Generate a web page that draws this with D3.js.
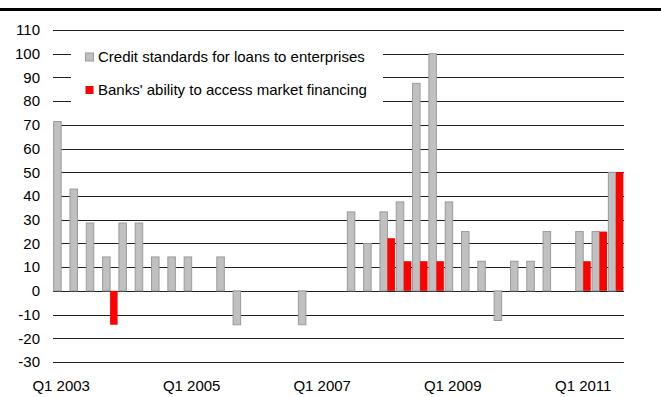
<!DOCTYPE html>
<html>
<head>
<meta charset="utf-8">
<script src="https://cdn.jsdelivr.net/npm/d3@7/dist/d3.min.js"></script>
<style>
  html, body { margin: 0; padding: 0; background: #fff; }
  svg { display: block; }
  text { font-family: "Liberation Sans", Arial, sans-serif; fill: #000; }
</style>
</head>
<body>
<svg id="chart" width="661" height="397"></svg>
<script>
// Quarterly categories, Q1 2003 – Q3 2011
const quarters = [
  "Q1 2003","Q2 2003","Q3 2003","Q4 2003",
  "Q1 2004","Q2 2004","Q3 2004","Q4 2004",
  "Q1 2005","Q2 2005","Q3 2005","Q4 2005",
  "Q1 2006","Q2 2006","Q3 2006","Q4 2006",
  "Q1 2007","Q2 2007","Q3 2007","Q4 2007",
  "Q1 2008","Q2 2008","Q3 2008","Q4 2008",
  "Q1 2009","Q2 2009","Q3 2009","Q4 2009",
  "Q1 2010","Q2 2010","Q3 2010","Q4 2010",
  "Q1 2011","Q2 2011","Q3 2011"
];

// Net percentages per quarter
const creditStandards = [
  71.4, 42.9, 28.6, 14.3, 28.6, 28.6, 14.3, 14.3,
  14.3, 0, 14.3, -14.3, 0, 0, 0, -14.3,
  0, 0, 33.3, 20, 33.3, 37.5, 87.5, 100,
  37.5, 25, 12.5, -12.5, 12.5, 12.5, 25, 0,
  25, 25, 50
];
const marketFinancing = [
  0, 0, 0, -14.3, 0, 0, 0, 0,
  0, 0, 0, 0, 0, 0, 0, 0,
  0, 0, 0, 0, 22.2, 12.5, 12.5, 12.5,
  0, 0, 0, 0, 0, 0, 0, 0,
  12.5, 25, 50
];

const seriesNames = [
  "Credit standards for loans to enterprises",
  "Banks' ability to access market financing"
];
const xTickLabels = ["Q1 2003", "Q1 2005", "Q1 2007", "Q1 2009", "Q1 2011"];
const yTicks = d3.range(-30, 111, 10);

const svg = d3.select("#chart");
const plotLeft = 53, plotRight = 624, plotTop = 30, plotBottom = 362;
const fontSize = "15px";

const x = d3.scaleBand().domain(quarters).range([plotLeft, plotRight]).padding(0);
const y = d3.scaleLinear().domain([-30, 110]).range([plotBottom, plotTop]);

// Heavy rule across the top
svg.append("rect")
  .attr("x", 0).attr("y", 8).attr("width", 661).attr("height", 3)
  .attr("fill", "#000");

// Horizontal gridlines
svg.append("g")
  .selectAll("line")
  .data(yTicks)
  .join("line")
  .attr("x1", plotLeft).attr("x2", plotRight)
  .attr("y1", d => Math.round(y(d)) + 0.5)
  .attr("y2", d => Math.round(y(d)) + 0.5)
  .attr("stroke", "#202020")
  .attr("stroke-width", 1.2);

// Y axis labels (plain hyphen for negatives)
const yAxis = d3.axisLeft(y)
  .tickValues(yTicks)
  .tickFormat(d => String(d))
  .tickSize(0)
  .tickPadding(13);
svg.append("g")
  .attr("transform", `translate(${plotLeft},0)`)
  .call(yAxis)
  .call(g => g.select(".domain").remove())
  .call(g => g.selectAll("text")
    .style("font-family", '"Liberation Sans", Arial, sans-serif')
    .style("font-size", fontSize)
    .attr("fill", "#000"));

// Bars
const barW = 7.5;
const groupCenter = q => x(q) + x.bandwidth() / 2;

function barRect(sel, values, offset, fill, stroke) {
  sel.selectAll("rect")
    .data(quarters.map((q, i) => ({ q, v: values[i] })).filter(d => d.v !== 0))
    .join("rect")
    .attr("x", d => groupCenter(d.q) + offset)
    .attr("width", barW)
    .attr("y", d => y(Math.max(0, d.v)))
    .attr("height", d => Math.abs(y(d.v) - y(0)))
    .attr("fill", fill)
    .attr("stroke", stroke)
    .attr("stroke-width", stroke === "none" ? 0 : 1);
}

svg.append("g").call(barRect, creditStandards, -barW, "#c0c0c0", "#9a9a9a");
svg.append("g").call(barRect, marketFinancing, 0, "#ff0000", "none");

// X axis labels
const xAxis = d3.axisBottom(x)
  .tickValues(xTickLabels)
  .tickSize(0)
  .tickPadding(0);
svg.append("g")
  .attr("transform", `translate(0,${plotBottom + 18})`)
  .call(xAxis)
  .call(g => g.select(".domain").remove())
  .call(g => g.selectAll("text")
    .style("font-family", '"Liberation Sans", Arial, sans-serif')
    .style("font-size", fontSize)
    .attr("fill", "#000"));

// Legend
const legend = svg.append("g");
legend.append("rect")
  .attr("x", 71).attr("y", 42).attr("width", 312).attr("height", 66)
  .attr("fill", "#fff");
const legendColors = [["#c0c0c0", "#9a9a9a"], ["#ff0000", "none"]];
const legendRows = [57, 90];
seriesNames.forEach((name, i) => {
  legend.append("rect")
    .attr("x", 85.5).attr("y", legendRows[i] - 4)
    .attr("width", 8).attr("height", 8)
    .attr("fill", legendColors[i][0])
    .attr("stroke", legendColors[i][1])
    .attr("stroke-width", legendColors[i][1] === "none" ? 0 : 1);
  legend.append("text")
    .attr("x", 98).attr("y", legendRows[i])
    .attr("dy", "0.35em")
    .style("font-size", fontSize)
    .text(name);
});
</script>
</body>
</html>
